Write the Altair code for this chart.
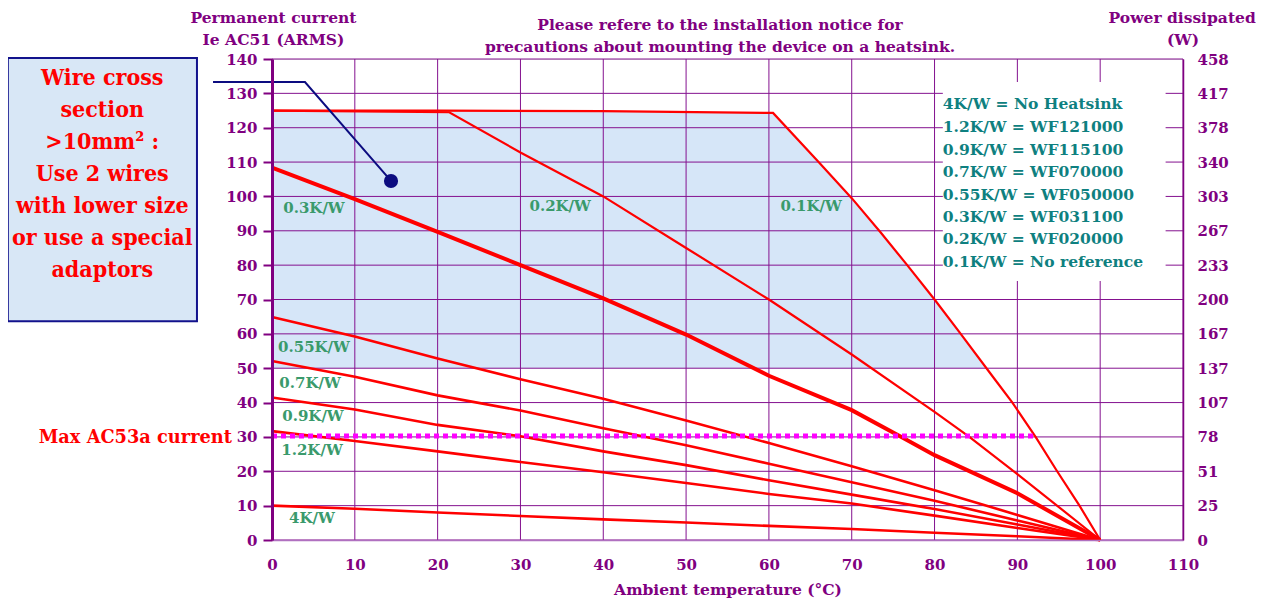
import altair as alt
import numpy as np
import pandas as pd

# ---------------- data ----------------
T_STD = [0, 10, 20, 30, 40, 50, 60, 70, 80, 90, 100]

T_01 = [0, 20, 40, 60.5, 66, 70, 73.5, 76.7, 80, 83, 87.2, 89.4, 92.2, 94.8, 97.5, 100]
I_01 = [125, 125, 124.8, 124.3, 110, 99.5, 89.5, 80, 70, 60.5, 47, 40, 30, 20, 10, 0]

T_02 = [0, 21.4, 30, 40, 50, 60, 70, 80, 84.2, 90, 100]
I_02 = [125, 124.5, 112.8, 100, 85, 70, 54, 37.3, 30, 19.2, 0]

T_03 = [0, 10, 20, 30, 40, 50, 60, 70, 76, 80, 90, 100]
I_03 = [108.4, 99.2, 89.7, 80, 70.3, 59.8, 47.8, 37.8, 30, 24.7, 13.6, 0]

I_055 = [64.9, 59.2, 52.8, 46.8, 41.1, 34.8, 28.2, 21.5, 14.5, 7.3, 0]
I_07 = [52.1, 47.5, 42.1, 37.7, 32.5, 27.6, 22.2, 16.8, 11.4, 5.7, 0]
I_09 = [41.5, 38, 33.5, 30.2, 25.8, 21.8, 17.4, 13.2, 9, 4.5, 0]
I_12 = [31.7, 28.8, 25.8, 22.7, 19.7, 16.6, 13.4, 10.6, 7.1, 3.5, 0]
I_4 = [10, 9.1, 8, 7, 6, 5.1, 4.1, 3.2, 2.1, 1.1, 0]

AC53_CURRENT = 30.3
AC53_END_T = 92.2
SAFE_MIN_CURRENT = 50

X_TICKS = [0, 10, 20, 30, 40, 50, 60, 70, 80, 90, 100, 110]
Y_TICKS = [0, 10, 20, 30, 40, 50, 60, 70, 80, 90, 100, 110, 120, 130, 140]
POWER_LABELS = ["0", "25", "51", "78", "107", "137", "167", "200", "233",
                "267", "303", "340", "378", "417", "458"]

CURVE_LABELS = ["0.3K/W", "0.2K/W", "0.1K/W", "0.55K/W", "0.7K/W", "0.9K/W", "1.2K/W", "4K/W"]
LEGEND_LINES = ["4K/W = No Heatsink", "1.2K/W = WF121000", "0.9K/W = WF115100",
                "0.7K/W = WF070000", "0.55K/W = WF050000", "0.3K/W = WF031100",
                "0.2K/W = WF020000", "0.1K/W = No reference"]
BOX_LINES = ["Wire cross", "section", ">10mm² :", "Use 2 wires", "with lower size",
             "or use a special", "adaptors"]

# ---------------- styling ----------------
FONT = "DejaVu Serif"
BOX_FONT = "'DejaVu Serif Condensed', 'DejaVu Serif'"
PURPLE = "#800080"
GRID = "#84118f"
RED = "#ff0000"
GREEN = "#3a9a6c"
TEAL = "#0e8080"
NAVY = "#0c0c80"

xs = alt.Scale(domain=[0, 110], nice=False, zero=False)
ys = alt.Scale(domain=[0, 140], nice=False, zero=False)

x_axis = alt.Axis(values=X_TICKS, grid=False, ticks=False, labelPadding=17, labelFlush=False,
                  labelFont=FONT, labelFontSize=15, labelFontWeight="bold", labelColor=PURPLE,
                  domainColor="#b070c0", domainWidth=1.5, zindex=1,
                  title="Ambient temperature (°C)", titleFont=FONT, titleFontSize=15.5,
                  titleFontWeight="bold", titleColor=PURPLE, titlePadding=10)
y_axis = alt.Axis(values=Y_TICKS, grid=False, tickSize=9, tickColor=PURPLE, tickWidth=2,
                  labelPadding=6, labelFont=FONT, labelFontSize=15, labelFontWeight="bold",
                  labelColor=PURPLE, domainColor=PURPLE, domainWidth=3, zindex=1, title=None)


def X(f):
    return alt.X(f, type="quantitative", scale=xs, axis=x_axis)


def Y(f):
    return alt.Y(f, type="quantitative", scale=ys, axis=y_axis)


# ---------------- tables ----------------
def curve(name, T, I):
    return pd.DataFrame({"curve": name, "T": T, "I": I})

thin_curves = pd.concat([
    curve("0.1K/W", T_01, I_01),
    curve("0.2K/W", T_02, I_02),
])
curves = pd.concat([
    curve("0.55K/W", T_STD, I_055),
    curve("0.7K/W", T_STD, I_07),
    curve("0.9K/W", T_STD, I_09),
    curve("1.2K/W", T_STD, I_12),
    curve("4K/W", T_STD, I_4),
])
thick = curve("0.3K/W", T_03, I_03)

# recommended zone: under the 0.1K/W curve and above 50 A
zone = curve("zone", T_01, I_01)
zone = zone[zone["I"] >= SAFE_MIN_CURRENT]
t_edge = float(np.interp(SAFE_MIN_CURRENT, I_01[::-1], T_01[::-1]))
zone = pd.concat([zone, pd.DataFrame({"curve": ["zone"], "T": [t_edge],
                                      "I": [SAFE_MIN_CURRENT]})])
zone["base"] = SAFE_MIN_CURRENT

vgrid = pd.DataFrame({"v": X_TICKS})
hgrid = pd.DataFrame({"v": Y_TICKS})

# annotation anchor points (in data units: °C, A)
curve_lab = pd.DataFrame({"t": CURVE_LABELS,
                          "x": [5.07, 34.8, 65.1, 5.07, 4.6, 4.95, 4.83, 4.83],
                          "y": [96.6, 97.2, 97.2, 56.2, 45.7, 36.1, 26.2, 6.4]})
legend = pd.DataFrame({"t": LEGEND_LINES, "x": 81.0,
                       "y": [126.9, 120.2, 113.5, 107.1, 100.4, 94.0, 87.6, 80.9]})
legend_bg = pd.DataFrame({"x": [81.0], "x2": [107.9], "y": [133.3], "y2": [75.4]})
box_bg = pd.DataFrame({"x": [-31.9], "x2": [-9.06], "y": [140.3], "y2": [63.7]})
box_txt = pd.DataFrame({"t": BOX_LINES, "x": -20.5,
                        "y": [134.5, 125.2, 115.8, 106.5, 97.2, 87.9, 78.6]})
titles = pd.DataFrame({"t": ["Permanent current", "Ie AC51 (ARMS)",
                             "Please refere to the installation notice for",
                             "precautions about mounting the device on a heatsink.",
                             "Power dissipated", "(W)"],
                       "x": [0.18, 0.18, 54.1, 54.1, 109.9, 110.0],
                       "y": [151.9, 145.5, 149.9, 143.5, 151.9, 145.5]})
ac53_lab = pd.DataFrame({"t": ["Max AC53a current"], "x": [-4.83], "y": [AC53_CURRENT - 0.6]})
ac53 = pd.DataFrame({"x": [0], "x2": [AC53_END_T], "y": [AC53_CURRENT]})
pointer = pd.DataFrame({"x": [-7.12, 3.98, 14.37], "y": [133.3, 133.3, 104.5], "o": [0, 1, 2]})
dot = pointer.tail(1)

# ---------------- layers ----------------
zone_l = alt.Chart(zone).mark_area(color="#d6e6f8", opacity=1).encode(
    x=X("T"), y=Y("I"), y2="base:Q")
vgrid_l = alt.Chart(vgrid).mark_rule(color=GRID, strokeWidth=1).encode(
    x=X("v"), y=alt.value(0), y2=alt.value(481))
hgrid_l = alt.Chart(hgrid).mark_rule(color=GRID, strokeWidth=1).encode(
    y=Y("v"), x=alt.value(0), x2=alt.value(911))
legend_bg_l = alt.Chart(legend_bg).mark_rect(color="white").encode(
    x=X("x"), x2="x2:Q", y=Y("y"), y2="y2:Q")
box_l = alt.Chart(box_bg).mark_rect(fill="#d8e7f6", stroke="#12128c", strokeWidth=2).encode(
    x=X("x"), x2="x2:Q", y=Y("y"), y2="y2:Q")
thin_l = alt.Chart(thin_curves).mark_line(color=RED, strokeWidth=2.2).encode(
    x=X("T"), y=Y("I"), detail="curve:N")
lines_l = alt.Chart(curves).mark_line(color=RED, strokeWidth=2.6).encode(
    x=X("T"), y=Y("I"), detail="curve:N")
thick_l = alt.Chart(thick).mark_line(color=RED, strokeWidth=4).encode(
    x=X("T"), y=Y("I"))
ac53_l = alt.Chart(ac53).mark_rule(color="#ff00ff", strokeWidth=5, strokeDash=[5, 4]).encode(
    x=X("x"), x2="x2:Q", y=Y("y"))
pointer_l = alt.Chart(pointer).mark_line(color=NAVY, strokeWidth=2).encode(
    x=X("x"), y=Y("y"), order="o:Q")
dot_l = alt.Chart(dot).mark_circle(color=NAVY, size=200, opacity=1).encode(
    x=X("x"), y=Y("y"))


def text_layer(df, font=FONT, **kw):
    return alt.Chart(df).mark_text(font=font, baseline="middle", **kw).encode(
        x=X("x"), y=Y("y"), text="t:N")

curve_lab_l = text_layer(curve_lab, color=GREEN, fontSize=15, fontWeight="bold", align="center")
legend_l = text_layer(legend, color=TEAL, fontSize=15.5, fontWeight="bold", align="left")
box_txt_l = text_layer(box_txt, font=BOX_FONT, color=RED, fontSize=23, fontWeight="bold",
                       align="center")
titles_l = text_layer(titles, color=PURPLE, fontSize=15.5, fontWeight="bold", align="center")
ac53_lab_l = text_layer(ac53_lab, color=RED, fontSize=17.8, fontWeight="bold", align="right")

main = alt.layer(zone_l, vgrid_l, hgrid_l, legend_bg_l, box_l, thin_l, lines_l, thick_l,
                 ac53_l, pointer_l, dot_l, curve_lab_l, legend_l, box_txt_l, titles_l,
                 ac53_lab_l)

label_expr = "[" + ",".join("'%s'" % s for s in POWER_LABELS) + "][round(datum.value/10)]"
right_axis = alt.Axis(orient="right", values=Y_TICKS, labelExpr=label_expr, grid=False,
                      ticks=False, labelPadding=14, labelAlign="left", labelFont=FONT,
                      labelFontSize=15, labelFontWeight="bold", labelColor=PURPLE,
                      domainColor=PURPLE, domainWidth=1.5, zindex=1, title=None)
right_l = alt.Chart(hgrid).mark_rule(opacity=0).encode(
    y=alt.Y("v:Q", scale=ys, axis=right_axis))

chart = alt.layer(main, right_l).resolve_scale(y="independent").properties(
    width=911, height=481,
    autosize=alt.AutoSizeParams(type="none"),
    padding={"left": 264, "top": 51, "right": 73, "bottom": 62},
).configure_view(stroke=None).configure(background="white")

chart.save("out.html", embed_options={"renderer": "svg", "actions": False})
